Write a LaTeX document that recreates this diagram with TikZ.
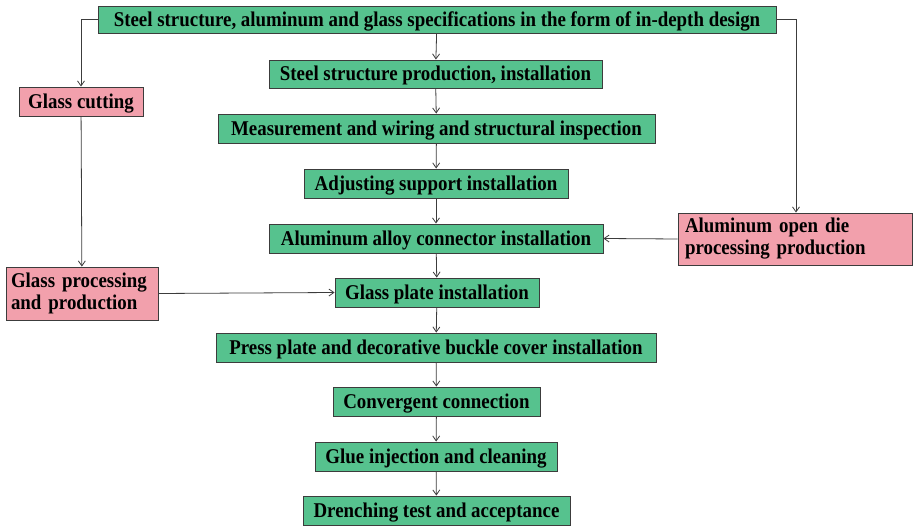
\documentclass[tikz,border=0pt]{standalone}
\usepackage{fontspec}
\setmainfont{Liberation Serif}[BoldFeatures={FakeStretch=0.9}]
\usetikzlibrary{arrows.meta}
\definecolor{boxgreen}{RGB}{86,194,142}
\definecolor{boxpink}{RGB}{242,160,172}
\definecolor{edge}{RGB}{60,60,60}
\tikzset{
  gbox/.style={draw=edge, line width=0.9pt, fill=boxgreen, inner sep=0pt, text depth=1pt, font=\bfseries\fontsize{21}{22}\selectfont},
  pbox/.style={draw=edge, line width=0.9pt, fill=boxpink, inner sep=0pt, font=\bfseries\fontsize{21}{22}\selectfont, align=left},
  conn/.style={draw=edge, line width=0.8pt, -{Straight Barb[length=5pt,width=7pt]}},
}
\begin{document}
\begin{tikzpicture}[x=1pt,y=-1pt]
\useasboundingbox (0,0) rectangle (913,526);
\node[gbox, minimum width=678pt, minimum height=27pt] (top) at (437,19.5) {Steel structure, aluminum and glass specifications in the form of in-depth design};
\node[gbox, minimum width=333pt, minimum height=28pt] (s2) at (435.5,74) {Steel structure production, installation};
\node[gbox, minimum width=437pt, minimum height=29pt] (s3) at (436.5,128.5) {Measurement and wiring and structural inspection};
\node[gbox, minimum width=264pt, minimum height=29pt] (s4) at (436,183.5) {Adjusting support installation};
\node[gbox, minimum width=334pt, minimum height=29pt] (s5) at (436,238.5) {Aluminum alloy connector installation};
\node[gbox, minimum width=204pt, minimum height=29pt] (s6) at (437,292.5) {Glass plate installation};
\node[gbox, minimum width=440pt, minimum height=29pt] (s7) at (436,347.5) {Press plate and decorative buckle cover installation};
\node[gbox, minimum width=207pt, minimum height=29pt] (s8) at (436.5,401.5) {Convergent connection};
\node[gbox, minimum width=242pt, minimum height=29pt] (s9) at (436,456.5) {Glue injection and cleaning};
\node[gbox, minimum width=267pt, minimum height=29pt] (s10) at (436.5,510.5) {Drenching test and acceptance};
\node[pbox, minimum width=124pt, minimum height=29pt, text depth=1pt] (gc) at (81,101.5) {Glass cutting};
\node[pbox, minimum width=152pt, minimum height=53pt, text width=142pt] (gp) at (82,293.5) {Glass processing\\and production};
\node[pbox, minimum width=234pt, minimum height=52pt, text width=220pt] (al) at (795,239) {Aluminum open die\\processing production};
\foreach \a/\b in {top/s2,s2/s3,s3/s4,s4/s5,s5/s6,s6/s7,s7/s8,s8/s9,s9/s10}{
  \draw[conn] (\a) -- (\b);
}
\draw[conn] (top.west) -| (gc.north);
\draw[conn] (top.east) -| (al.north -| 796,0);
\draw[conn] (gc) -- (gp);
\draw[conn] (gp.east) -- (s6.west);
\draw[conn] (al.west) -- (s5.east);
\end{tikzpicture}
\end{document}
